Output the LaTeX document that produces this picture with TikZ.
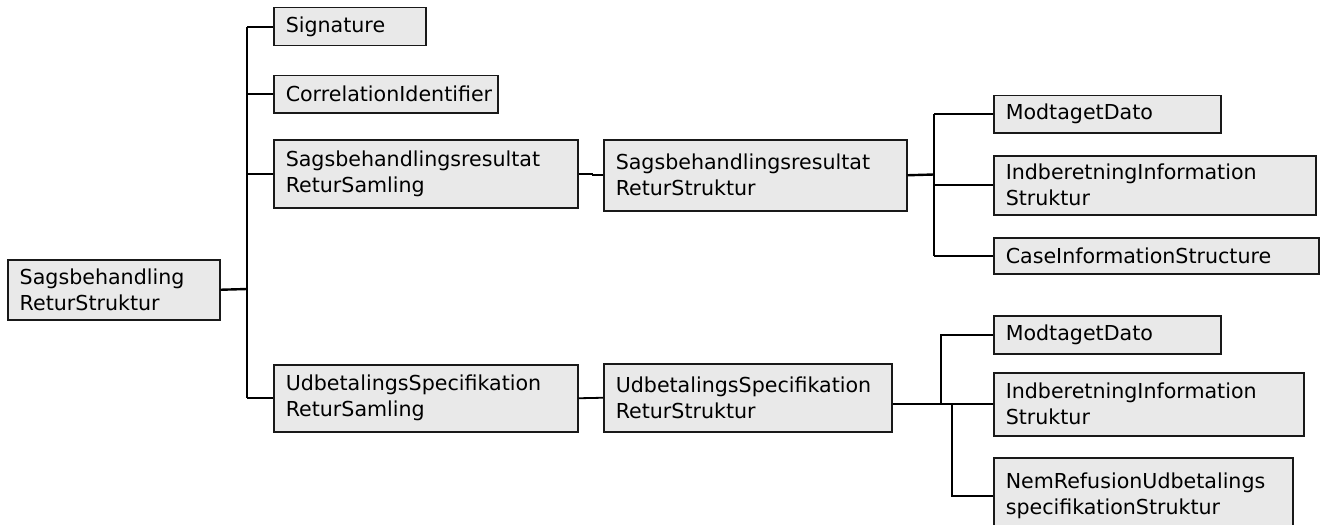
\documentclass[tikz,border=0pt]{standalone}
\usepackage{fontspec}
\setmainfont{DejaVu Sans}
\definecolor{boxgray}{RGB}{233,233,233}
\tikzset{elem/.style={draw=black!90,fill=boxgray,line width=0.75pt,anchor=north west,align=left,inner xsep=6pt,inner ysep=2pt,font=\fontsize{10.3pt}{13pt}\selectfont},
	link/.style={line width=0.9pt}}
\begin{document}
\begin{tikzpicture}[x=0.5pt,y=-0.5pt]
	\useasboundingbox (0,0) rectangle (1325,524);
	\node[elem,text width=94pt,minimum height=30pt] (1) at (7,259) {Sagsbehandling\\ReturStruktur};
	\node[elem,text width=64pt,minimum height=19pt] (2) at (273,7) {Signature}; \node[elem,text width=100pt,minimum height=18.5pt] (3) at (273,75) {CorrelationIdentifier};
	\node[elem,text width=140pt,minimum height=34pt] (4) at (273,139) {Sagsbehandlingsresultat\\ReturSamling}; \node[elem,text width=140pt,minimum height=33.5pt] (5) at (273,364) {UdbetalingsSpecifikation\\ReturSamling};
	\node[elem,text width=139.5pt,minimum height=35.5pt] (6) at (603,139) {Sagsbehandlingsresultat\\ReturStruktur}; \node[elem,text width=132pt,minimum height=34pt] (7) at (603,363) {UdbetalingsSpecifikation\\ReturStruktur};
	\node[elem,text width=101.5pt,minimum height=18.5pt] (8) at (993,95) {ModtagetDato}; \node[elem,text width=149pt,minimum height=29.5pt] (9) at (993,155) {IndberetningInformation\\Struktur};
	\node[elem,text width=150.5pt,minimum height=18pt] (10) at (993,237) {CaseInformationStructure};
	\node[elem,text width=101.5pt,minimum height=19pt] (11) at (993,315) {ModtagetDato}; \node[elem,text width=143pt,minimum height=31.5pt] (12) at (993,372) {IndberetningInformation\\Struktur};
	\node[elem,text width=137.5pt,minimum height=38pt] (13) at (993,457) {NemRefusionUdbetalings\\specifikationStruktur};
	\coordinate (b1) at (247,289); \coordinate (b2) at (934,174.5); \coordinate (b3) at (941,403.5); \coordinate (b4) at (952,403.5);
	\draw[link,line width=1.2pt] (1.east) -- (b1);
	\draw[link] (2.west -| b1) -- (5.west -| b1);
	\foreach \n in {2,3,4,5} \draw[link] (\n.west -| b1) -- (\n.west);
	\draw[link] (4.east) -- ++(14,0) |- (6.west);
	\draw[link] (5.east) -- (7.west);
	\draw[link,line width=1.2pt] (6.east) -- (b2);
	\draw[link] (8.west -| b2) -- (10.west -| b2);
	\foreach \n in {8,9,10} \draw[link] (\n.west -| b2) -- (\n.west);
	\draw[link,line width=1.2pt] (7.east |- 12.west) -- (12.west);
	\draw[link] (b3) |- (11.west); \draw[link] (b4) |- (13.west);
\end{tikzpicture}
\end{document}
